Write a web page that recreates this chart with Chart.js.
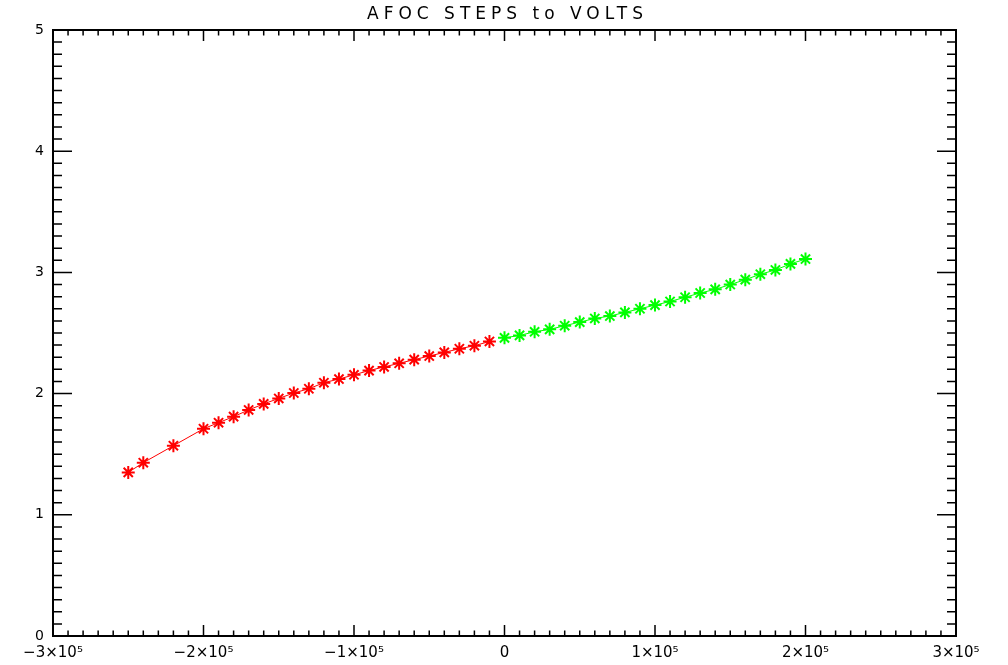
<!DOCTYPE html>
<html>
<head>
<meta charset="utf-8">
<title>AFOC STEPS to VOLTS</title>
<script src="https://cdn.jsdelivr.net/npm/chart.js@4.4.1/dist/chart.umd.min.js"></script>
<style>
  html, body { margin: 0; padding: 0; background: #fff; }
  canvas { display: block; }
</style>
</head>
<body>
<canvas id="afocChart" width="1008" height="665"></canvas>
<script>
// values
const TITLE = 'AFOC STEPS to VOLTS';
const redSteps = [-250000, -240000, -220000, -200000, -190000, -180000, -170000, -160000, -150000, -140000,
  -130000, -120000, -110000, -100000, -90000, -80000, -70000, -60000, -50000, -40000, -30000, -20000, -10000];
const redVolts = [1.35, 1.43, 1.57, 1.71, 1.76, 1.81, 1.865, 1.915, 1.96, 2.005,
  2.04, 2.09, 2.12, 2.155, 2.19, 2.22, 2.25, 2.28, 2.31, 2.34, 2.37, 2.395, 2.43];
const greenSteps = [0, 10000, 20000, 30000, 40000, 50000, 60000, 70000, 80000, 90000, 100000,
  110000, 120000, 130000, 140000, 150000, 160000, 170000, 180000, 190000, 200000];
const greenVolts = [2.46, 2.48, 2.51, 2.53, 2.56, 2.59, 2.62, 2.64, 2.67, 2.70, 2.73,
  2.76, 2.795, 2.83, 2.86, 2.90, 2.94, 2.985, 3.02, 3.07, 3.11];

const X_MIN = -300000, X_MAX = 300000, X_STEP = 100000, X_MINOR = 10000;
const Y_MIN = 0, Y_MAX = 5, Y_STEP = 1, Y_MINOR = 0.1;

const FONT = '"DejaVu Sans", sans-serif';

function xLabel(v) {
  if (v === 0) return '0';
  return (v < 0 ? '\u2212' : '') + Math.round(Math.abs(v) / 1e5) + '\u00d710\u2075';
}

// IDL style box: frame, inward major + minor ticks on all four sides, title
const idlFrame = {
  id: 'idlFrame',
  afterDraw(chart) {
    const { ctx, chartArea: a, scales: { x, y } } = chart;
    ctx.save();
    ctx.strokeStyle = '#000';
    ctx.lineWidth = 1.5;
    ctx.beginPath();
    const nx = Math.round((X_MAX - X_MIN) / X_MINOR);
    for (let i = 0; i <= nx; i++) {
      const px = x.getPixelForValue(X_MIN + i * X_MINOR);
      const len = i % 10 === 0 ? 11 : 5.5;
      ctx.moveTo(px, a.bottom); ctx.lineTo(px, a.bottom - len);
      ctx.moveTo(px, a.top); ctx.lineTo(px, a.top + len);
    }
    const ny = Math.round((Y_MAX - Y_MIN) / Y_MINOR);
    for (let i = 0; i <= ny; i++) {
      const py = y.getPixelForValue(Y_MIN + i * Y_MINOR);
      const len = i % 10 === 0 ? 19 : 9;
      ctx.moveTo(a.left, py); ctx.lineTo(a.left + len, py);
      ctx.moveTo(a.right, py); ctx.lineTo(a.right - len, py);
    }
    ctx.stroke();
    ctx.lineWidth = 2;
    ctx.strokeRect(a.left, a.top, a.right - a.left, a.bottom - a.top);

    ctx.fillStyle = '#000';
    ctx.font = '17px ' + FONT;
    ctx.letterSpacing = '5px';
    ctx.textAlign = 'center';
    ctx.textBaseline = 'middle';
    ctx.fillText(TITLE, (a.left + a.right) / 2 + 3, 15);
    ctx.restore();
  }
};

new Chart(document.getElementById('afocChart'), {
  type: 'scatter',
  data: {
    datasets: [
      {
        label: 'negative steps',
        data: redSteps.map((s, i) => ({ x: s, y: redVolts[i] })),
        showLine: true,
        borderColor: '#ff0000',
        backgroundColor: '#ff0000',
        borderWidth: 1,
        pointStyle: 'star',
        pointRadius: 6.5,
        pointBorderWidth: 2,
      },
      {
        label: 'positive steps',
        data: greenSteps.map((s, i) => ({ x: s, y: greenVolts[i] })),
        showLine: true,
        borderColor: '#00ff00',
        backgroundColor: '#00ff00',
        borderWidth: 1,
        pointStyle: 'star',
        pointRadius: 6.5,
        pointBorderWidth: 2,
      },
    ],
  },
  options: {
    responsive: false,
    animation: false,
    devicePixelRatio: 1,
    layout: { padding: { top: 30, right: 52, left: 0, bottom: 0 } },
    plugins: { legend: { display: false }, tooltip: { enabled: false }, title: { display: false } },
    scales: {
      x: {
        type: 'linear', min: X_MIN, max: X_MAX,
        grid: { display: false, drawTicks: false }, border: { display: false },
        ticks: { stepSize: X_STEP, color: '#000', font: { family: FONT, size: 15 }, padding: 8, maxRotation: 0, callback: xLabel },
        afterFit(scale) { scale.height = 29; },
      },
      y: {
        type: 'linear', min: Y_MIN, max: Y_MAX,
        grid: { display: false, drawTicks: false }, border: { display: false },
        ticks: { stepSize: Y_STEP, color: '#000', font: { family: FONT, size: 14 }, padding: 9 },
        afterFit(scale) { scale.width = 53; },
      },
    },
  },
  plugins: [idlFrame],
});
</script>
</body>
</html>
